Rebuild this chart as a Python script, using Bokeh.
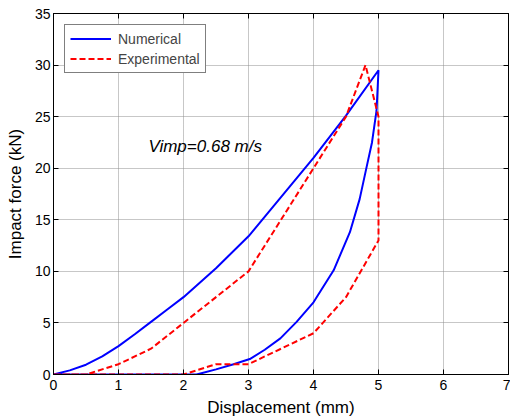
from bokeh.plotting import figure
from bokeh.models import LinearAxis, Range1d, FixedTicker, Label, CustomJSTickFormatter
from bokeh.embed import file_html
from bokeh.resources import INLINE

# ---- data ----
num_x = [0, 0.25, 0.5, 0.75, 1.0, 1.25, 1.5, 1.75, 2.0, 2.5, 3.0, 3.5, 4.0, 4.5, 5.0,
         4.97, 4.9, 4.82, 4.71, 4.56, 4.31, 4.0, 3.74, 3.49, 3.25, 3.02, 2.77, 2.5, 2.26, 2.2, 0]
num_y = [0, 0.4, 0.95, 1.75, 2.75, 3.9, 5.1, 6.3, 7.5, 10.3, 13.4, 17.2, 21.0, 25.1, 29.5,
         25.6, 22.5, 20.2, 17.0, 13.8, 10.1, 7.0, 5.1, 3.5, 2.4, 1.5, 1.0, 0.5, 0.1, 0, 0]

exp_x = [0, 0.5, 1.0, 1.5, 2.0, 3.0, 4.0, 4.5, 4.8, 5.0, 5.0, 4.5, 4.0, 3.0, 2.5, 2.0, 0]
exp_y = [0, 0, 1.0, 2.5, 5.0, 10.0, 20.0, 25.0, 30.0, 25.0, 13.0, 7.5, 4.0, 1.0, 1.0, 0, 0]

x_ticks = [0, 1, 2, 3, 4, 5, 6, 7]
y_ticks = [0, 5, 10, 15, 20, 25, 30, 35]

annot_text = "Vimp=0.68 m/s"
annot_x = 1.46
annot_y = 22.1

FONT = "Liberation Sans"

p = figure(width=510, height=419, x_range=Range1d(0, 7), y_range=Range1d(0, 35),
           output_backend="svg", toolbar_location=None,
           min_border_left=53, min_border_top=13, min_border_right=2, min_border_bottom=43)
p.background_fill_color = "white"
p.border_fill_color = "white"
p.outline_line_color = "black"
p.outline_line_width = 1

for ax in (p.xaxis[0], p.yaxis[0]):
    ax.major_tick_in = 5
    ax.major_tick_out = 0
    ax.minor_tick_line_color = None
    ax.axis_line_color = "black"
    ax.major_tick_line_color = "black"
    ax.major_label_text_font = FONT
    ax.major_label_text_font_size = "14px"
    ax.major_label_text_color = "black"
    ax.axis_label_text_font = FONT
    ax.axis_label_text_font_size = "17px"
    ax.axis_label_text_font_style = "normal"
    ax.axis_label_text_color = "black"

p.xaxis.ticker = FixedTicker(ticks=x_ticks)
p.yaxis.ticker = FixedTicker(ticks=y_ticks)
p.xaxis.axis_label = "Displacement (mm)"
p.yaxis.axis_label = "Impact force (kN)"
p.xaxis.major_label_standoff = 5
p.yaxis.major_label_standoff = 3
p.xaxis.axis_label_standoff = 5
p.yaxis.axis_label_standoff = 7

blank = CustomJSTickFormatter(code="return ''")
for loc, tk in (("right", y_ticks), ("above", x_ticks)):
    a = LinearAxis(ticker=FixedTicker(ticks=tk), formatter=blank)
    a.major_tick_in = 5
    a.major_tick_out = 0
    a.minor_tick_line_color = None
    a.major_label_text_font_size = "1px"
    a.major_label_standoff = 0
    a.axis_line_color = "black"
    p.add_layout(a, loc)

p.grid.grid_line_color = "#8f8f8f"
p.grid.grid_line_dash = "1 1"
p.grid.grid_line_width = 1
p.xgrid.ticker = FixedTicker(ticks=x_ticks)
p.ygrid.ticker = FixedTicker(ticks=y_ticks)

p.line(num_x, num_y, line_color="#0000ff", line_width=2, legend_label="Numerical")
p.line(exp_x, exp_y, line_color="#ff0000", line_width=2, line_dash="6 3",
       legend_label="Experimental")

p.add_layout(Label(x=annot_x, y=annot_y, text=annot_text, text_font=FONT,
                   text_font_size="17px", text_font_style="italic",
                   text_color="black", text_baseline="alphabetic"))

lg = p.legend[0]
lg.location = "top_left"
lg.margin = 11
lg.padding = 5
lg.spacing = 3
lg.glyph_width = 41
lg.glyph_height = 17
lg.label_height = 17
lg.label_standoff = 7
lg.label_text_font = FONT
lg.label_text_font_size = "14px"
lg.border_line_color = "black"
lg.border_line_width = 1
lg.background_fill_color = "white"
lg.background_fill_alpha = 1

open("out.html", "w").write(file_html(p, INLINE))
